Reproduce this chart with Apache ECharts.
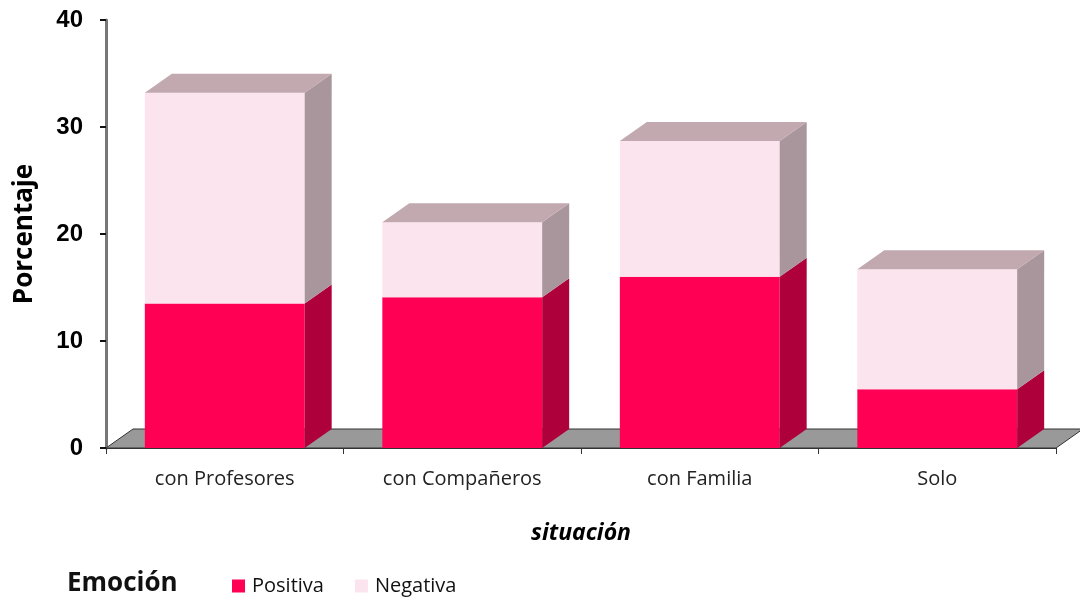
<!DOCTYPE html>
<html>
<head>
<meta charset="utf-8">
<script src="https://cdn.jsdelivr.net/npm/echarts@6/dist/echarts.min.js"></script>
<style>
html, body { margin: 0; padding: 0; background: #fff; }
#chart { width: 1080px; height: 599px; }
</style>
</head>
<body>
<div id="chart"></div>
<script>
// datos
const categories = ['con Profesores', 'con Compañeros', 'con Familia', 'Solo'];
const positiva = [13.5, 14.1, 16.0, 5.5];
const negativa = [19.7, 7.0, 12.7, 11.2];
const yTicks = [0, 10, 20, 30, 40];

// desplazamiento de la profundidad 3D (px)
const DX = 27, DY = -19;

function boxRenderer (front, side, top, withTop) {
  return function (params, api) {
    const i = api.value(0)
    const pLo = api.coord([i, api.value(1)])
    const pHi = api.coord([i, api.value(2)])
    const w = api.size([1, 0])[0] * 0.673
    const x0 = pLo[0] - w / 2, x1 = pLo[0] + w / 2
    const children = [
      { type: 'rect', shape: { x: x0, y: pHi[1], width: w, height: pLo[1] - pHi[1] }, style: { fill: front } },
      { type: 'polygon', shape: { points: [[x1, pLo[1]], [x1, pHi[1]], [x1 + DX, pHi[1] + DY], [x1 + DX, pLo[1] + DY]] }, style: { fill: side } }
    ]
    if (withTop) {
      children.push({ type: 'polygon', shape: { points: [[x0, pHi[1]], [x1, pHi[1]], [x1 + DX, pHi[1] + DY], [x0 + DX, pHi[1] + DY]] }, style: { fill: top } })
    }
    return { type: 'group', children }
  }
}

const chart = echarts.init(document.getElementById('chart'))
chart.setOption({
  animation: false,
  grid: { left: 106, right: 24, top: 20, bottom: 151 },
  legend: {
    left: 227, top: 571,
    itemWidth: 13, itemHeight: 13, itemGap: 31,
    textStyle: { fontFamily: 'Open Sans', fontSize: 20, color: '#111', padding: [0, 0, 0, 2] },
    data: [{ name: 'Positiva', icon: 'rect' }, { name: 'Negativa', icon: 'rect' }]
  },
  graphic: [{
    type: 'text', x: 67, y: 584,
    style: { text: 'Emoción', fontFamily: 'Open Sans', fontWeight: 'bold', fontSize: 26, fill: '#111', verticalAlign: 'middle' }
  }],
  xAxis: {
    type: 'category',
    data: categories,
    name: 'situación',
    nameLocation: 'middle',
    nameGap: 74,
    nameTextStyle: { fontFamily: 'Open Sans', fontWeight: 'bold', fontStyle: 'italic', fontSize: 23, color: '#000' },
    axisLine: { lineStyle: { color: '#333', width: 1 } },
    axisTick: { show: true, length: 6, lineStyle: { color: '#333' } },
    axisLabel: { fontFamily: 'Open Sans', fontSize: 20, color: '#222', margin: 21 }
  },
  yAxis: {
    type: 'value',
    min: 0, max: 40, interval: 10,
    name: 'Porcentaje',
    nameLocation: 'middle',
    nameGap: 68,
    nameTextStyle: { fontFamily: 'Open Sans', fontWeight: 'bold', fontSize: 26, color: '#000' },
    axisLine: { show: true, lineStyle: { color: '#777', width: 3 } },
    axisTick: { show: true, length: 6, lineStyle: { color: '#111', width: 2 } },
    splitLine: { show: false },
    axisLabel: {
      fontFamily: 'Liberation Sans', fontWeight: 'bold', fontSize: 24, color: '#000', margin: 23,
      formatter: v => yTicks.includes(v) ? String(v) : ''
    }
  },
  series: [
    {
      name: 'suelo',
      type: 'custom',
      silent: true,
      z: 1,
      data: [[0]],
      renderItem: function (params, api) {
        const c = params.coordSys
        const yb = c.y + c.height
        return {
          type: 'polygon',
          shape: { points: [[c.x, yb], [c.x + c.width, yb], [c.x + c.width + DX, yb + DY], [c.x + DX, yb + DY]] },
          style: { fill: '#999999', stroke: '#333', lineWidth: 1 }
        }
      }
    },
    {
      name: 'Positiva',
      type: 'custom',
      z: 2,
      itemStyle: { color: '#FF0055' },
      encode: { x: 0, y: [1, 2] },
      data: positiva.map((v, i) => [i, 0, v]),
      renderItem: boxRenderer('#FF0055', '#AE003A', '#C8003F', false)
    },
    {
      name: 'Negativa',
      type: 'custom',
      z: 2,
      itemStyle: { color: '#FCE4EE' },
      encode: { x: 0, y: [1, 2] },
      data: negativa.map((v, i) => [i, positiva[i], positiva[i] + v]),
      renderItem: boxRenderer('#FCE4EE', '#A8969C', '#C1A9AF', true)
    }
  ]
})
</script>
</body>
</html>
